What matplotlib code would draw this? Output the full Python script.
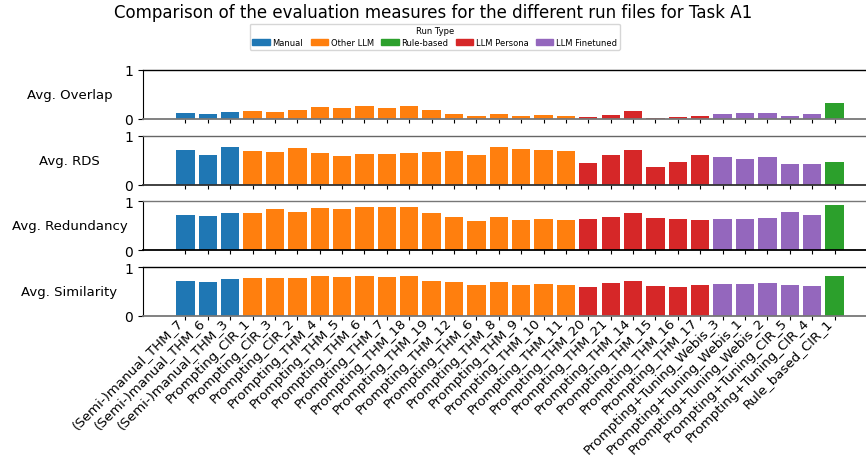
import numpy as np
import matplotlib
matplotlib.use("Agg")
import matplotlib.pyplot as plt
from matplotlib.patches import Patch

# run files (x axis)
runs = [
    "(Semi-)manual_THM_7", "(Semi-)manual_THM_6", "(Semi-)manual_THM_3",
    "Prompting_CIR_1", "Prompting_CIR_3", "Prompting_CIR_2",
    "Prompting_THM_4", "Prompting_THM_5", "Prompting_THM_6", "Prompting_THM_7",
    "Prompting_THM_18", "Prompting_THM_19", "Prompting_THM_12", "Prompting_THM_6",
    "Prompting_THM_8", "Prompting_THM_9", "Prompting_THM_10", "Prompting_THM_11",
    "Prompting_THM_20", "Prompting_THM_21", "Prompting_THM_14", "Prompting_THM_15",
    "Prompting_THM_16", "Prompting_THM_17",
    "Prompting+Tuning_Webis_3", "Prompting+Tuning_Webis_1", "Prompting+Tuning_Webis_2",
    "Prompting+Tuning_CIR_5", "Prompting+Tuning_CIR_4", "Rule_based_CIR_1",
]
run_types = (["Manual"] * 3 + ["Other LLM"] * 15 + ["LLM Persona"] * 6
             + ["LLM Finetuned"] * 5 + ["Rule-based"])

avg_overlap = [0.12, 0.10, 0.14, 0.16, 0.14, 0.185, 0.25, 0.23, 0.27, 0.23,
               0.27, 0.185, 0.10, 0.06, 0.10, 0.06, 0.08, 0.06, 0.04, 0.08,
               0.165, 0.02, 0.04, 0.06, 0.10, 0.12, 0.12, 0.06, 0.10, 0.33]
avg_rds = [0.715, 0.61, 0.78, 0.695, 0.675, 0.757, 0.653, 0.59, 0.632, 0.632,
           0.653, 0.674, 0.695, 0.61, 0.78, 0.736, 0.715, 0.695, 0.444, 0.61,
           0.715, 0.36, 0.465, 0.61, 0.57, 0.528, 0.57, 0.424, 0.424, 0.465]
avg_redundancy = [0.729, 0.708, 0.75, 0.77, 0.833, 0.79, 0.854, 0.833, 0.875, 0.875,
                  0.875, 0.77, 0.6875, 0.604, 0.6875, 0.625, 0.646, 0.625, 0.646, 0.6875,
                  0.77, 0.667, 0.646, 0.625, 0.646, 0.646, 0.667, 0.79, 0.729, 0.917]
avg_similarity = [0.712, 0.692, 0.753, 0.774, 0.774, 0.774, 0.815, 0.795, 0.815, 0.795,
                  0.815, 0.712, 0.692, 0.63, 0.692, 0.63, 0.65, 0.63, 0.589, 0.671,
                  0.712, 0.61, 0.589, 0.63, 0.65, 0.65, 0.671, 0.63, 0.61, 0.815]

measures = ["Avg. Overlap", "Avg. RDS", "Avg. Redundancy", "Avg. Similarity"]
values = [avg_overlap, avg_rds, avg_redundancy, avg_similarity]

type_order = ["Manual", "Other LLM", "Rule-based", "LLM Persona", "LLM Finetuned"]
palette = {"Manual": "#1f77b4", "Other LLM": "#ff7f0e", "Rule-based": "#2ca02c",
           "LLM Persona": "#d62728", "LLM Finetuned": "#9467bd"}

fig = plt.figure(figsize=(8.66, 4.64), dpi=100)
fig.suptitle("Comparison of the evaluation measures for the different run files for Task A1",
             fontsize=12, y=0.992)

bottoms = [0.742, 0.600, 0.459, 0.317]
# spine colours (top, bottom) as they look in the reference
spine_cols = [("black", "#777777"), ("#666666", "#333333"),
              ("#777777", "black"), ("black", "#777777")]
x = np.arange(len(runs))
colors = [palette[t] for t in run_types]

for i, (name, vals) in enumerate(zip(measures, values)):
    ax = fig.add_axes([0.165, bottoms[i], 0.84, 0.105])
    ax.bar(x, vals, width=0.82, color=colors)
    ax.set_ylim(0, 1)
    ax.set_xlim(-1.9, 30.6)
    ax.set_yticks([0, 1])
    ax.set_yticklabels(["0", "1"], fontsize=10)
    ax.set_xticks(x)
    ax.tick_params(axis="x", length=3, width=0.8)
    ax.set_ylabel(name, rotation=0, fontsize=9.5, ha="center", va="center")
    ax.yaxis.set_label_coords(-0.101, 0.5)
    ax.spines["right"].set_visible(False)
    ax.spines["top"].set_color(spine_cols[i][0])
    ax.spines["bottom"].set_color(spine_cols[i][1])
    ax.spines["bottom"].set_linewidth(1.3)
    ax.spines["top"].set_linewidth(1.0)
    if i < 3:
        ax.set_xticklabels([])
    else:
        ax.set_xticklabels(runs, rotation=45, ha="right", fontsize=9.6)
        ax.tick_params(axis="x", pad=-3.5)

handles = [Patch(color=palette[t], label=t) for t in type_order]
fig.legend(handles=handles, title="Run Type", loc="upper center",
           bbox_to_anchor=(0.502, 0.956), ncol=5, fontsize=6, title_fontsize=6,
           handlelength=2.1, columnspacing=0.9, handletextpad=0.3,
           borderpad=0.35, labelspacing=0.3)

fig.savefig("out.png", dpi=100)
